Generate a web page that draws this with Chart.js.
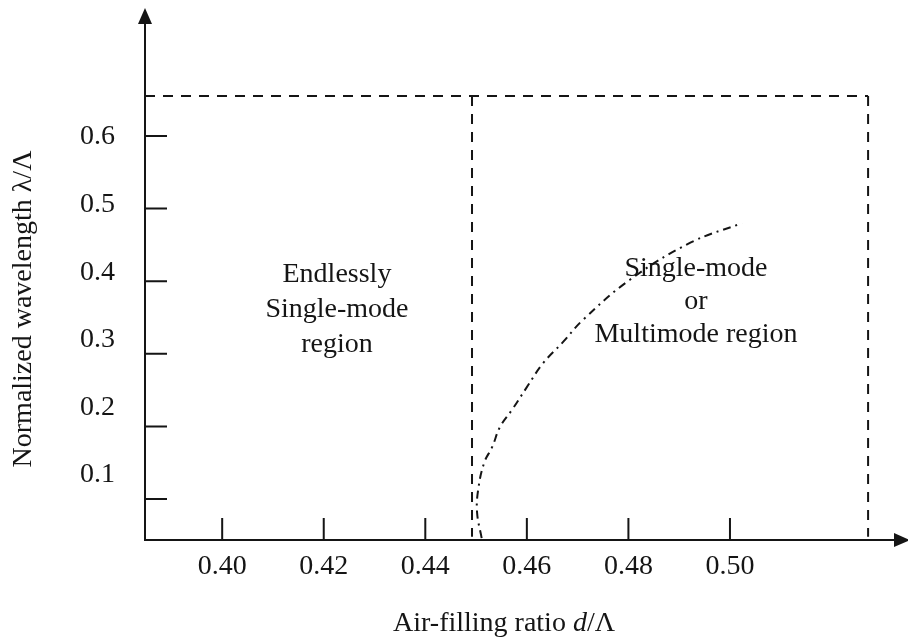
<!DOCTYPE html>
<html>
<head>
<meta charset="utf-8">
<script src="https://cdn.jsdelivr.net/npm/chart.js@4"></script>
<style>
html, body { margin: 0; padding: 0; background: #fff; }
</style>
</head>
<body>
<canvas id="chart" width="908" height="639"></canvas>
<script>
// tick values
const xTicks = [0.40, 0.42, 0.44, 0.46, 0.48, 0.50];
const yTicks = [0.1, 0.2, 0.3, 0.4, 0.5, 0.6];

// cutoff curve (dash-dot)
const cutoffX = [0.4511, 0.4502, 0.4504, 0.4516, 0.4532, 0.4547, 0.4571, 0.4600, 0.4632, 0.4671, 0.4711, 0.4803, 0.4922, 0.5024];
const cutoffY = [0.046, 0.081, 0.112, 0.150, 0.172, 0.199, 0.223, 0.254, 0.287, 0.316, 0.347, 0.402, 0.453, 0.480];

// dashed region boundaries
const boundTop = 0.655;
const boundLeft = 0.4492;
const boundRight = 0.5272;
const boundBottom = 0.048;

// region captions + where their first line sits (data coords)
const leftText = ["Endlessly", "Single-mode", "region"];
const leftTextAt = [0.4226, 0.399];
const rightText = ["Single-mode", "or", "Multimode region"];
const rightTextAt = [0.4933, 0.407];

const xRange = [0.3848, 0.5325];
const yRange = [0.0435, 0.7556];
// the printed tick labels drift from the tick marks, so they get their own scale
const yLabelRange = [0.0039, 0.7686];

const ink = "#151515";
const serif = '"Liberation Serif", "Times New Roman", serif';

const pts = (xs, ys) => xs.map((v, i) => ({ x: v, y: ys[i] }));

function dashed(data) {
  return {
    data, showLine: true, pointRadius: 0, borderColor: ink, borderWidth: 2,
    borderDash: [10, 8], fill: false, tension: 0, clip: false, yAxisID: "y"
  };
}

// no extra room for half-labels at the scale ends
function noPad(s) {
  s.paddingTop = 0; s.paddingBottom = 0; s.paddingLeft = 0; s.paddingRight = 0;
}

const decor = {
  id: "decor",
  afterDraw(chart) {
    const { ctx, chartArea: a, scales: { x, y } } = chart;
    ctx.save();
    ctx.strokeStyle = ink;
    ctx.fillStyle = ink;
    ctx.lineWidth = 2;

    // inward tick marks
    ctx.beginPath();
    xTicks.forEach(v => {
      const px = x.getPixelForValue(v);
      ctx.moveTo(px, a.bottom);
      ctx.lineTo(px, a.bottom - 22);
    });
    yTicks.forEach(v => {
      const py = y.getPixelForValue(v);
      ctx.moveTo(a.left, py);
      ctx.lineTo(a.left + 22, py);
    });
    ctx.stroke();

    // arrow heads
    ctx.beginPath();
    ctx.moveTo(a.left, a.top - 15);
    ctx.lineTo(a.left - 7, a.top + 1);
    ctx.lineTo(a.left + 7, a.top + 1);
    ctx.closePath();
    ctx.moveTo(a.right + 15, a.bottom);
    ctx.lineTo(a.right - 1, a.bottom - 7);
    ctx.lineTo(a.right - 1, a.bottom + 7);
    ctx.closePath();
    ctx.fill();

    // region captions
    ctx.font = "28px " + serif;
    ctx.textAlign = "center";
    ctx.textBaseline = "alphabetic";
    let tx = x.getPixelForValue(leftTextAt[0]), ty = y.getPixelForValue(leftTextAt[1]);
    leftText.forEach((t, i) => ctx.fillText(t, tx, ty + i * 35));
    tx = x.getPixelForValue(rightTextAt[0]); ty = y.getPixelForValue(rightTextAt[1]);
    rightText.forEach((t, i) => ctx.fillText(t, tx, ty + i * 33));

    // x title, with italic d
    const parts = [["Air-filling ratio ", ""], ["d", "italic "], ["/\u039B", ""]];
    let w = 0;
    parts.forEach(p => { ctx.font = p[1] + "28px " + serif; w += ctx.measureText(p[0]).width; });
    let cx = a.left + 359 - w / 2;
    ctx.textAlign = "left";
    parts.forEach(p => {
      ctx.font = p[1] + "28px " + serif;
      ctx.fillText(p[0], cx, a.bottom + 91);
      cx += ctx.measureText(p[0]).width;
    });

    // y title
    ctx.font = "28px " + serif;
    ctx.textAlign = "center";
    ctx.translate(31, a.top + 286);
    ctx.rotate(-Math.PI / 2);
    ctx.fillText("Normalized wavelength \u03BB/\u039B", 0, 0);
    ctx.restore();
  }
};

new Chart(document.getElementById("chart"), {
  type: "scatter",
  data: {
    datasets: [
      dashed(pts([xRange[0], boundRight], [boundTop, boundTop])),
      dashed(pts([boundLeft, boundLeft], [boundTop, boundBottom])),
      dashed(pts([boundRight, boundRight], [boundTop, boundBottom])),
      {
        data: pts(cutoffX, cutoffY), showLine: true, pointRadius: 0,
        borderColor: ink, borderWidth: 2, borderDash: [8, 5, 2, 5],
        tension: 0.4, fill: false, yAxisID: "y"
      }
    ]
  },
  options: {
    responsive: false,
    animation: false,
    layout: { padding: { top: 23, right: 13, left: 0, bottom: 0 } },
    plugins: { legend: { display: false }, tooltip: { enabled: false } },
    scales: {
      x: {
        type: "linear", position: "bottom", min: xRange[0], max: xRange[1],
        grid: { display: false, drawTicks: false },
        border: { display: true, width: 2, color: ink },
        ticks: {
          padding: 10, color: ink, maxRotation: 0, autoSkip: false,
          font: { family: serif, size: 28 },
          callback: v => v.toFixed(2)
        },
        afterBuildTicks: s => { s.ticks = xTicks.map(v => ({ value: v })); },
        afterFit: s => { s.height = 99; noPad(s); }
      },
      y: { type: "linear", display: false, min: yRange[0], max: yRange[1] },
      yl: {
        type: "linear", position: "left", min: yLabelRange[0], max: yLabelRange[1],
        grid: { display: false, drawTicks: false },
        border: { display: true, width: 2, color: ink },
        ticks: {
          padding: 30, color: ink, autoSkip: false,
          font: { family: serif, size: 28 },
          callback: v => v.toFixed(1)
        },
        afterBuildTicks: s => { s.ticks = yTicks.map(v => ({ value: v })); },
        afterFit: s => { s.width = 145; noPad(s); }
      }
    }
  },
  plugins: [decor]
});
</script>
</body>
</html>
